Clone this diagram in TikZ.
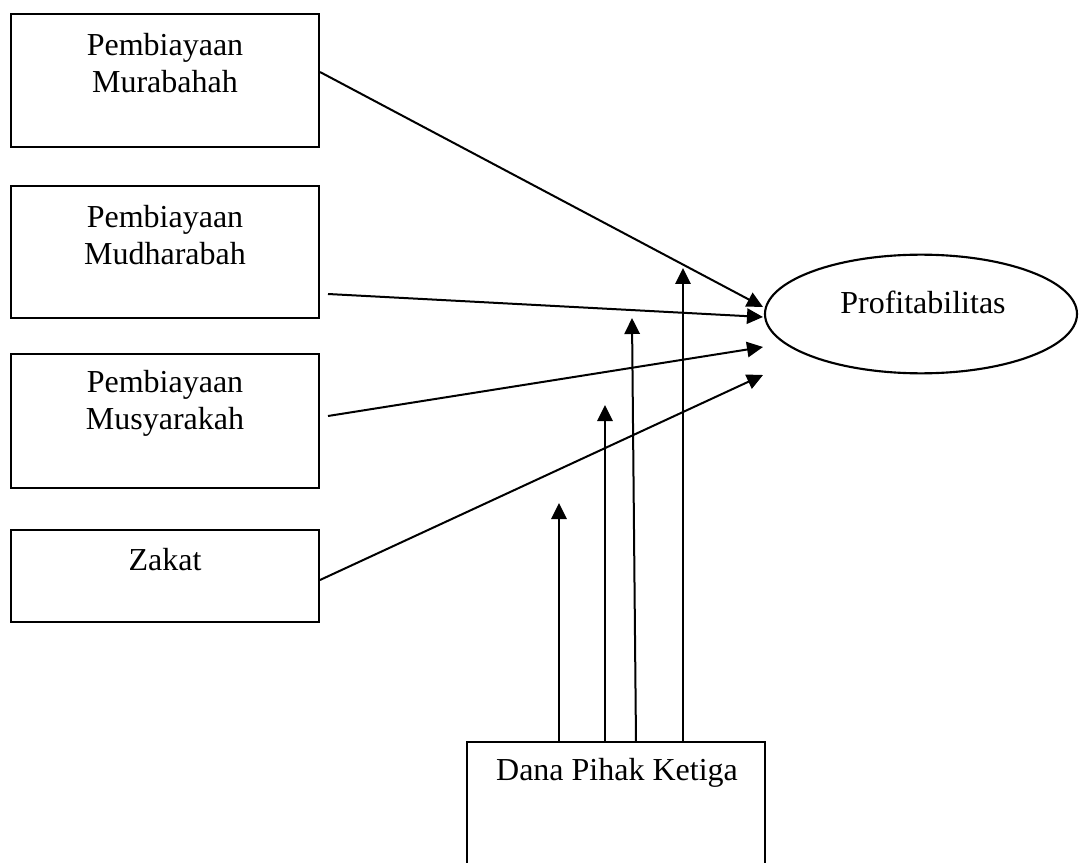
\documentclass[tikz,border=0pt]{standalone}
\usepackage{fontspec}
\setmainfont{Liberation Serif}
\usetikzlibrary{arrows.meta,shapes.geometric}
\begin{document}
\begin{tikzpicture}[x=0.75pt,y=-0.75pt,
  box/.style={draw,line width=1.6pt,rectangle,inner sep=0pt,minimum width=231pt},
  lbl/.style={inner sep=0pt,align=center,font=\fontsize{24}{27.75}\selectfont},
  conn/.style={line width=1.5pt,-{Triangle[length=12pt,width=11.5pt]}}]
\clip (0,0) rectangle (1079,863);
% boxes
\node[box,minimum height=99.75pt] (b1) at (165,80.5) {};
\node[box,minimum height=99pt] (b2) at (165,252) {};
\node[box,minimum height=100.5pt] (b3) at (165,421) {};
\node[box,minimum height=69pt] (b4) at (165,576) {};
\node[box,minimum width=223.5pt,minimum height=118.5pt] (dpk) at (616,821) {};
\node[draw,line width=1.6pt,ellipse,inner sep=0pt,minimum width=234pt,minimum height=89pt] (prof) at (921,314) {};
% labels
\node[lbl] (l1) at (165,63.5) {Pembiayaan\\Murabahah};
\node[lbl] (l2) at (165,235.5) {Pembiayaan\\Mudharabah};
\node[lbl] (l3) at (165,403.5) {Pembiayaan\\Musyarakah};
\node[lbl] (l4) at (165,560) {Zakat};
\node[lbl] (lp) at (923,302) {Profitabilitas};
\node[lbl] (ld) at (617,773) {Dana Pihak Ketiga};
% connector ends
\coordinate (s1) at (320,72);  \coordinate (t1) at (763,307);
\coordinate (s2) at (328,294); \coordinate (t2) at (763,317);
\coordinate (s3) at (328,416); \coordinate (t3) at (763,347);
\coordinate (s4) at (320,580); \coordinate (t4) at (763,375);
\coordinate (v1s) at (559,742); \coordinate (v1t) at (559,503);
\coordinate (v2s) at (605,742); \coordinate (v2t) at (605,405);
\coordinate (v3s) at (636,742); \coordinate (v3t) at (632,318);
\coordinate (v4s) at (683,742); \coordinate (v4t) at (683,268);
\draw[conn] (s1) -- (t1);
\draw[conn] (s2) -- (t2);
\draw[conn] (s3) -- (t3);
\draw[conn] (s4) -- (t4);
\draw[conn] (v1s) -- (v1t);
\draw[conn] (v2s) -- (v2t);
\draw[conn] (v3s) -- (v3t);
\draw[conn] (v4s) -- (v4t);
\end{tikzpicture}
\end{document}
